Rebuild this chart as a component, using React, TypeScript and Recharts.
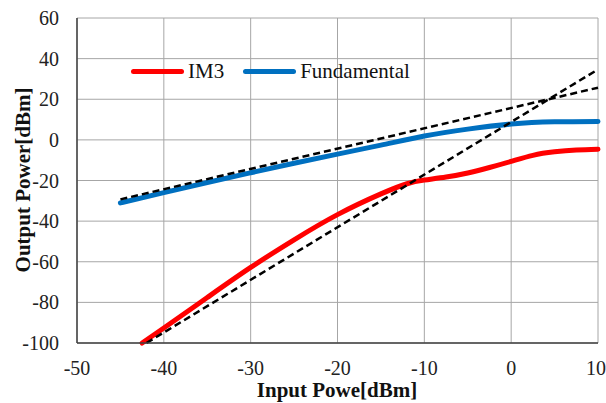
import React from "react";
import { LineChart, Line, XAxis, YAxis, CartesianGrid } from "recharts";

const xTicks = [-50, -40, -30, -20, -10, 0, 10];
const yTicks = [-100, -80, -60, -40, -20, 0, 20, 40, 60];

const im3X = [-42.5, -40, -35, -30, -25, -20, -15, -12, -10, -7.5, -5, -2.5, 0, 2.5, 5, 7.5, 10];
const im3Y = [-100, -92.6, -77.6, -62.8, -49.2, -36.8, -26.6, -21.6, -19.8, -18.3, -16.3, -13.6, -10.6, -7.6, -5.9, -5, -4.6];

const fundX = [-45, -40, -35, -30, -25, -20, -15, -10, -5, 0, 5, 10];
const fundY = [-31, -26, -21, -16.2, -11.5, -7, -2.6, 1.9, 5.3, 7.8, 8.9, 9.1];

const fundFitX = [-45, 10];
const fundFitY = [-29.3, 25.7];
const im3FitX = [-42, 10];
const im3FitY = [-100, 34.7];

const seriesNames = ["IM3", "Fundamental"];
const seriesColors = ["#FF0000", "#0070C0"];

const toPts = (xs: number[], ys: number[]) => xs.map((x, i) => ({ x, y: ys[i] }));

const im3Data = toPts(im3X, im3Y);
const fundData = toPts(fundX, fundY);
const fundFit = toPts(fundFitX, fundFitY);
const im3Fit = toPts(im3FitX, im3FitY);

const FONT = "'Liberation Serif', 'Times New Roman', serif";

const LegendContent = () => (
  <div style={{ display: "flex", alignItems: "center", fontFamily: FONT, fontSize: 21, color: "#111", lineHeight: "24px" }}>
    {seriesNames.map((n, i) => (
      <div key={n} style={{ display: "flex", alignItems: "center", marginRight: i === 0 ? 19 : 0 }}>
        <div style={{ width: 53, height: 5, borderRadius: 3, background: seriesColors[i], marginRight: 4 }} />
        <span>{n}</span>
      </div>
    ))}
  </div>
);

export default function App() {
  return (
    <div style={{ position: "absolute", left: 0, top: 0, width: 606, height: 403, background: "#fff" }}>
      <LineChart width={606} height={403} margin={{ top: 18, right: 8, bottom: 0, left: 0 }}>
        <CartesianGrid stroke="#A6A6A6" strokeWidth={1} />
        <XAxis
          type="number"
          dataKey="x"
          domain={[-50, 10]}
          ticks={xTicks}
          height={60}
          axisLine={{ stroke: "#404040", strokeWidth: 1.5 }}
          tickLine={false}
          tickMargin={12}
          tick={{ fontFamily: FONT, fontSize: 20, fill: "#222" }}
          allowDuplicatedCategory={false}
          label={{
            content: () => (
              <text x={337} y={397} textAnchor="middle" fontFamily={FONT} fontSize={21} fontWeight="bold" fill="#111">
                Input Powe[dBm]
              </text>
            ),
          }}
        />
        <XAxis xAxisId="top" orientation="top" type="number" domain={[-50, 10]} height={0} tick={false} tickLine={false} axisLine={{ stroke: "#404040", strokeWidth: 1.5 }} />
        <YAxis
          type="number"
          domain={[-100, 60]}
          ticks={yTicks}
          width={77}
          axisLine={{ stroke: "#404040", strokeWidth: 1.5 }}
          tickLine={false}
          tickMargin={12}
          tick={{ fontFamily: FONT, fontSize: 20, fill: "#222" }}
          label={{
            content: () => (
              <text x={30} y={180} transform="rotate(-90 30 180)" textAnchor="middle" fontFamily={FONT} fontSize={21} fontWeight="bold" fill="#111">
                Output Power[dBm]
              </text>
            ),
          }}
        />
        <YAxis yAxisId="right" orientation="right" type="number" domain={[-100, 60]} width={0} tick={false} tickLine={false} axisLine={{ stroke: "#000", strokeWidth: 1.5 }} />
        <Line data={im3Data} dataKey="y" name={seriesNames[0]} type="natural" stroke={seriesColors[0]} strokeWidth={5} dot={false} isAnimationActive={false} strokeLinecap="round" />
        <Line data={fundData} dataKey="y" name={seriesNames[1]} type="natural" stroke={seriesColors[1]} strokeWidth={5} dot={false} isAnimationActive={false} strokeLinecap="round" />
        <Line data={fundFit} dataKey="y" name="fundFit" legendType="none" type="linear" stroke="#000" strokeWidth={2.5} strokeDasharray="7 4" dot={false} isAnimationActive={false} />
        <Line data={im3Fit} dataKey="y" name="im3Fit" legendType="none" type="linear" stroke="#000" strokeWidth={2.5} strokeDasharray="7 4" dot={false} isAnimationActive={false} />
      </LineChart>
      <div style={{ position: "absolute", left: 131, top: 59 }}>
        <LegendContent />
      </div>
    </div>
  );
}
